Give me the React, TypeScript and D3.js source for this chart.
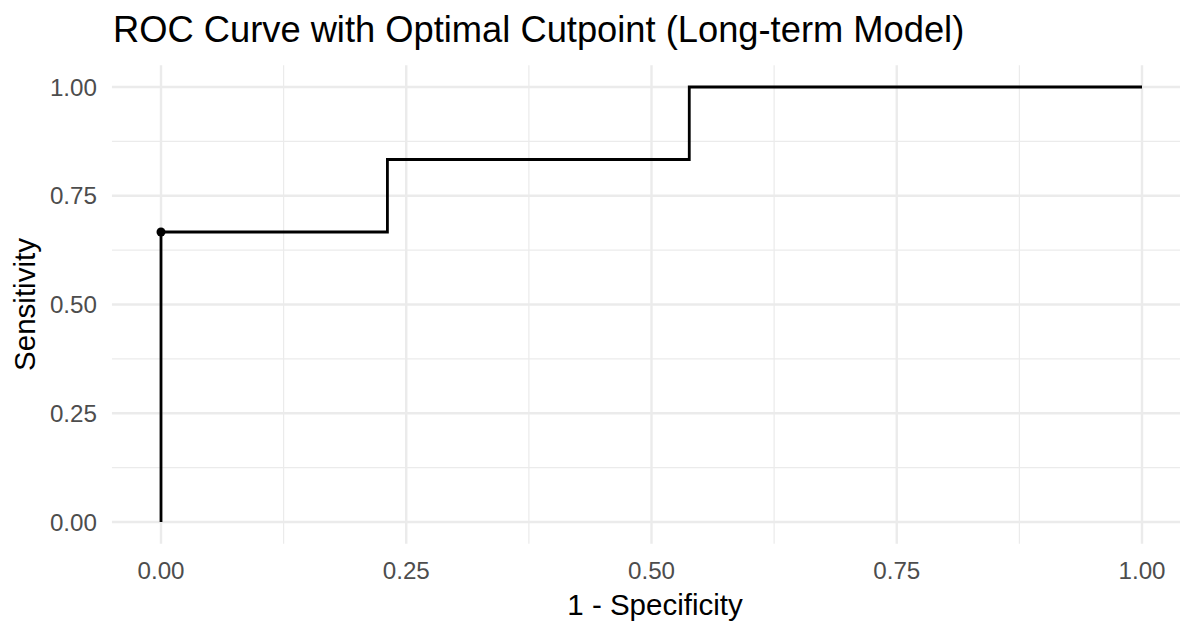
import React, { useRef, useEffect } from "react";
import * as d3 from "d3";

// ROC curve points (1 - specificity, sensitivity)
const fpr = [0, 0, 0.2308, 0.2308, 0.5385, 0.5385, 1];
const tpr = [0, 0.6667, 0.6667, 0.8333, 0.8333, 1, 1];
const optimal = { fpr: 0, tpr: 0.6667 };
const majorTicks = [0, 0.25, 0.5, 0.75, 1];
const minorTicks = [0.125, 0.375, 0.625, 0.875];

const width = 1180;
const height = 624;
const font = "'Liberation Sans', Arial, sans-serif";

const App: React.FC = () => {
  const svgRef = useRef<SVGSVGElement>(null);

  useEffect(() => {
    if (!svgRef.current) return;
    const svg = d3.select(svgRef.current);
    svg.selectAll("*").remove();

    // data range maps to these pixels; panel adds 5% expansion
    const x = d3.scaleLinear().domain([0, 1]).range([161, 1142]);
    const y = d3.scaleLinear().domain([0, 1]).range([522, 87]);
    const xPad = (x(1) - x(0)) * 0.05;
    const yPad = (y(0) - y(1)) * 0.05;
    const left = x(0) - xPad;
    const right = x(1) + xPad;
    const top = y(1) - yPad;
    const bottom = y(0) + yPad;

    const grid = svg.append("g");
    minorTicks.forEach((t) => {
      grid.append("line").attr("x1", x(t)).attr("x2", x(t)).attr("y1", top).attr("y2", bottom)
        .attr("stroke", "#ebebeb").attr("stroke-width", 1.2);
      grid.append("line").attr("x1", left).attr("x2", right).attr("y1", y(t)).attr("y2", y(t))
        .attr("stroke", "#ebebeb").attr("stroke-width", 1.2);
    });
    majorTicks.forEach((t) => {
      grid.append("line").attr("x1", x(t)).attr("x2", x(t)).attr("y1", top).attr("y2", bottom)
        .attr("stroke", "#ebebeb").attr("stroke-width", 2.4);
      grid.append("line").attr("x1", left).attr("x2", right).attr("y1", y(t)).attr("y2", y(t))
        .attr("stroke", "#ebebeb").attr("stroke-width", 2.4);
    });

    const fmt = d3.format(".2f");
    majorTicks.forEach((t) => {
      svg.append("text").attr("x", x(t)).attr("y", 579).attr("text-anchor", "middle")
        .attr("font-family", font).attr("font-size", 24.2).attr("fill", "#4d4d4d").text(fmt(t));
      svg.append("text").attr("x", 97).attr("y", y(t) + 8.5).attr("text-anchor", "end")
        .attr("font-family", font).attr("font-size", 24.2).attr("fill", "#4d4d4d").text(fmt(t));
    });

    const pts = fpr.map((f, i) => [f, tpr[i]] as [number, number]);
    const line = d3.line<[number, number]>().x((d) => x(d[0])).y((d) => y(d[1]));
    svg.append("path").datum(pts).attr("d", line).attr("fill", "none")
      .attr("stroke", "#000").attr("stroke-width", 2.8);

    svg.append("circle").attr("cx", x(optimal.fpr)).attr("cy", y(optimal.tpr)).attr("r", 4.5)
      .attr("fill", "#000");

    svg.append("text").attr("x", 113).attr("y", 42).attr("font-family", font)
      .attr("font-size", 36.3).attr("fill", "#000")
      .text("ROC Curve with Optimal Cutpoint (Long-term Model)");

    svg.append("text").attr("x", 655).attr("y", 615).attr("text-anchor", "middle")
      .attr("font-family", font).attr("font-size", 29.5).attr("fill", "#000").text("1 - Specificity");

    svg.append("text").attr("transform", `translate(35,${(top + bottom) / 2}) rotate(-90)`)
      .attr("text-anchor", "middle").attr("font-family", font).attr("font-size", 29.5)
      .attr("fill", "#000").text("Sensitivity");
  }, []);

  return (
    <svg
      ref={svgRef}
      width={width}
      height={height}
      style={{ position: "absolute", left: 0, top: 0, background: "#fff" }}
    />
  );
};

export default App;
